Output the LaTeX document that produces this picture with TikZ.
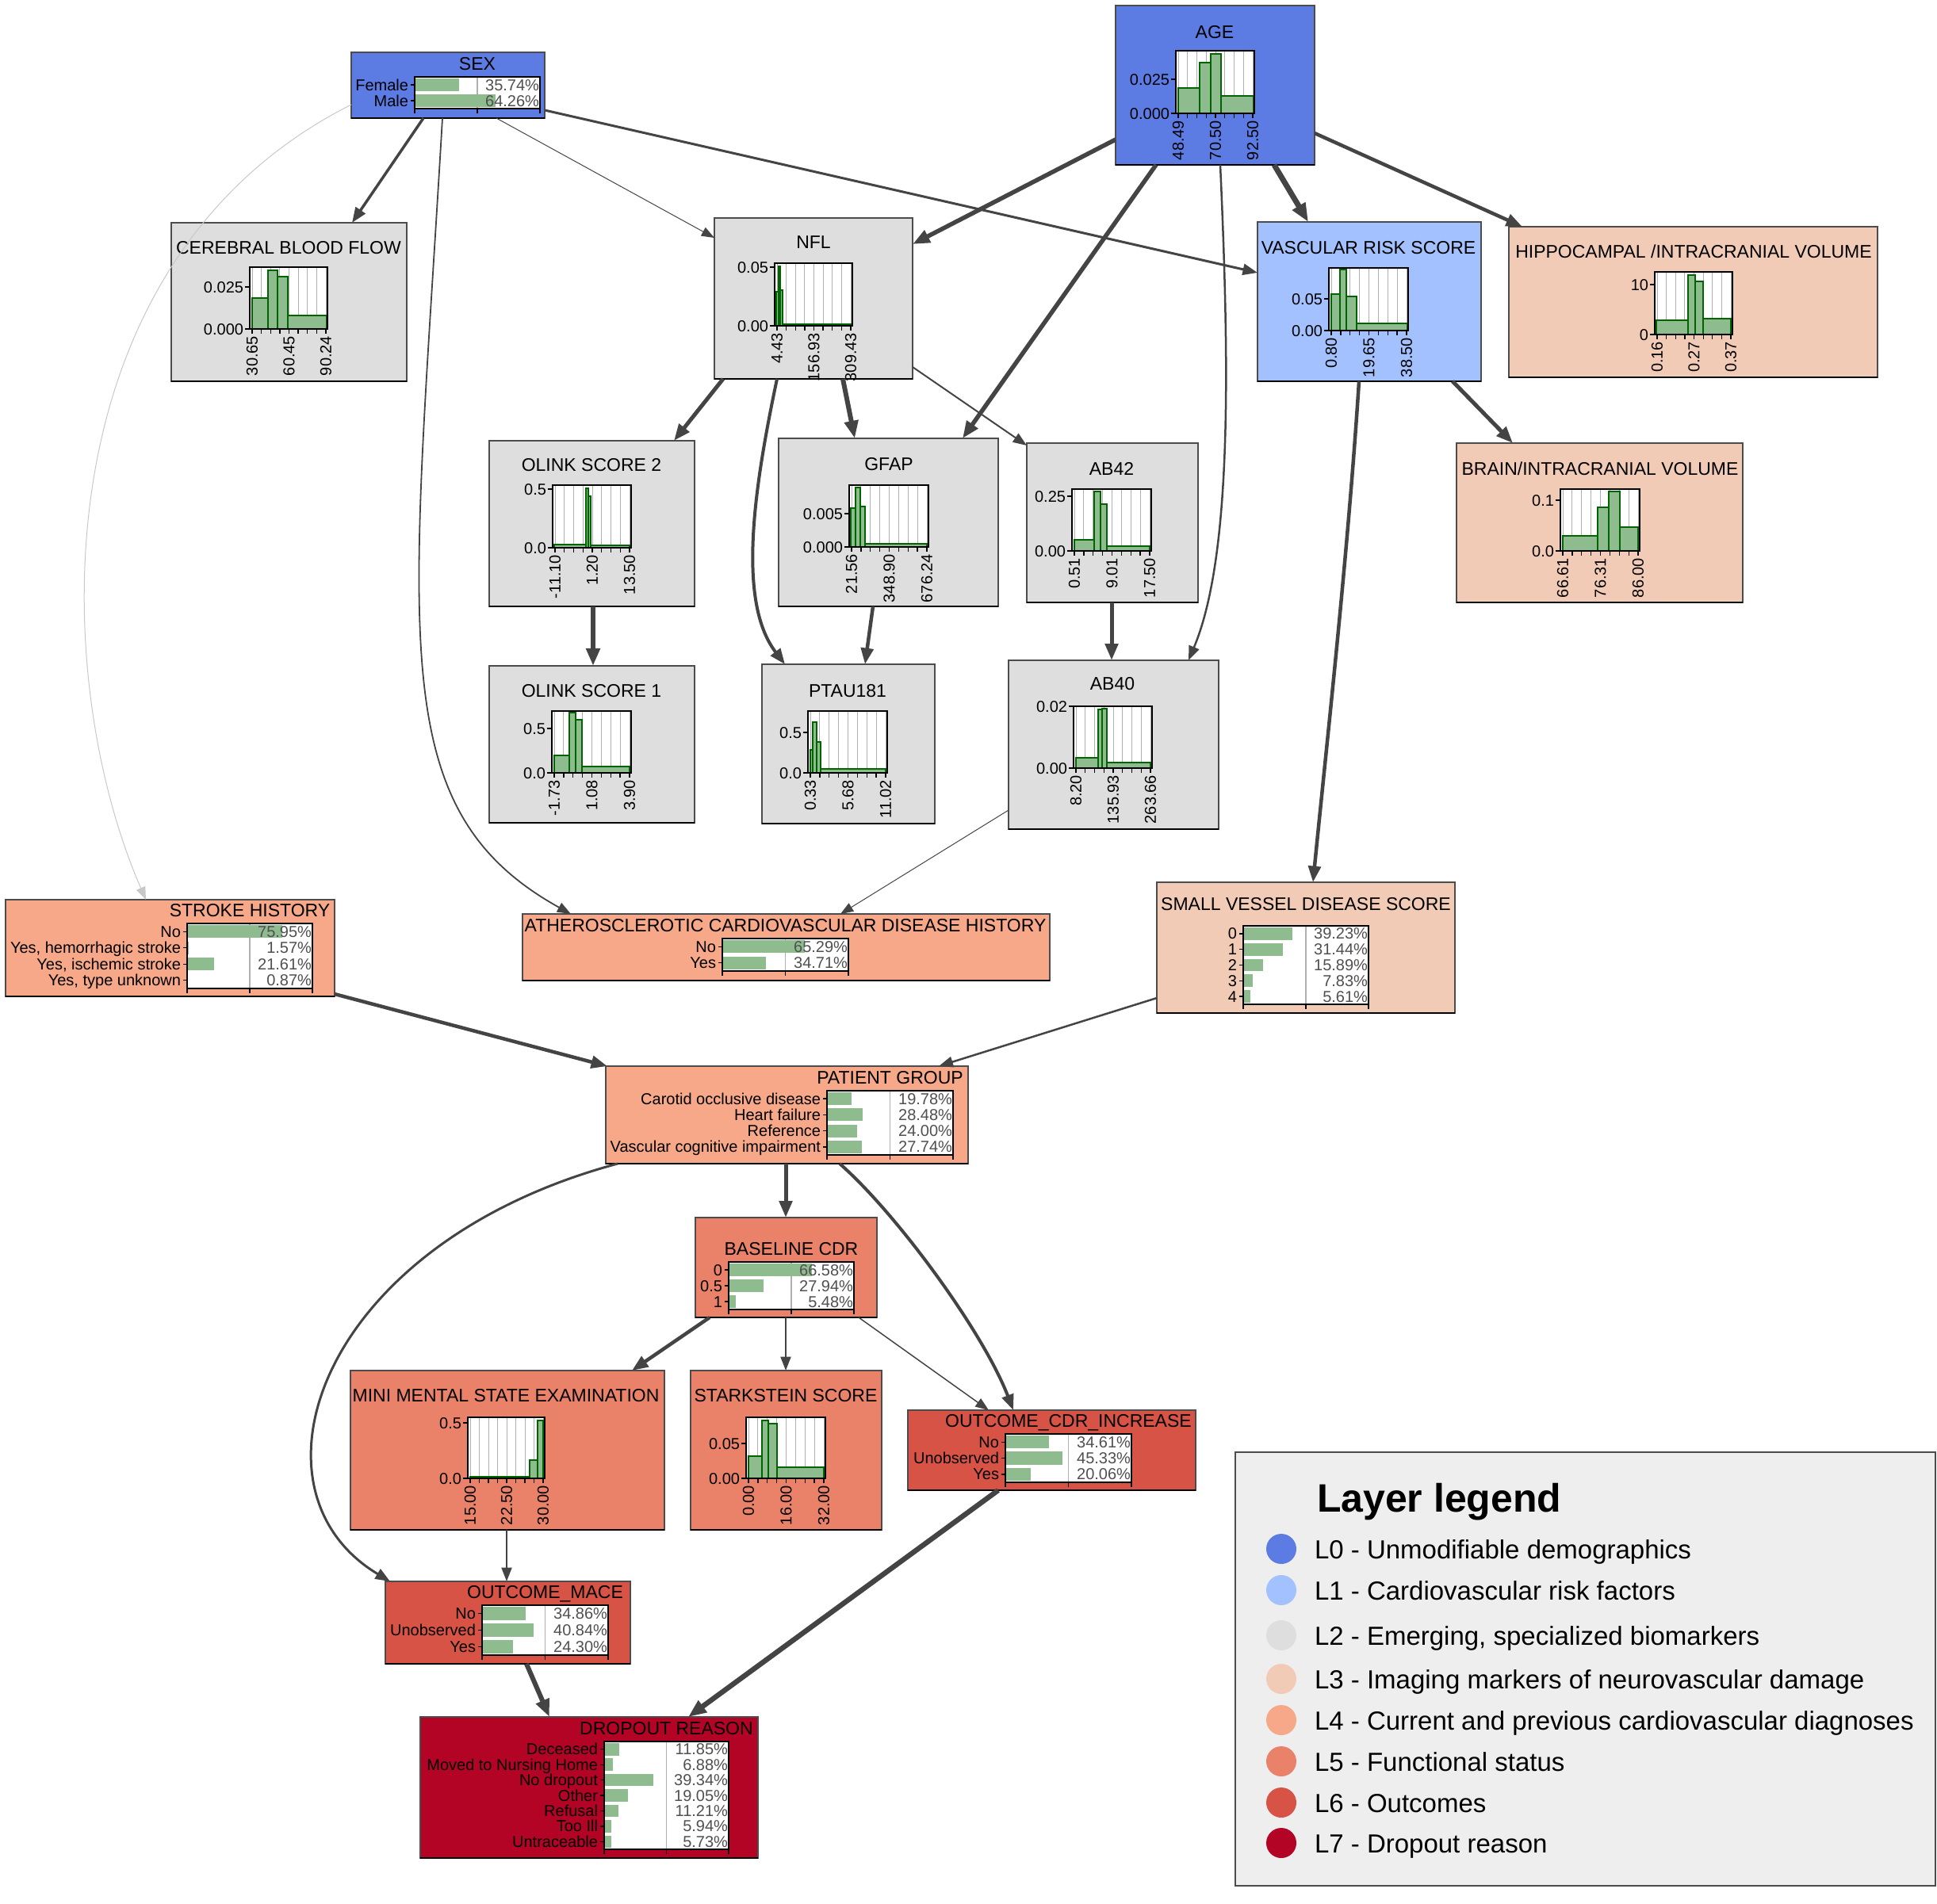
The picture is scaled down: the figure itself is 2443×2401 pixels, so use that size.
\documentclass[tikz,border=0pt]{standalone}
\usepackage{fontspec}
\setmainfont{Liberation Sans}
\usetikzlibrary{arrows.meta}

% layer colours
\definecolor{lzero}{RGB}{92,124,228}
\definecolor{lone}{RGB}{162,193,254}
\definecolor{ltwo}{RGB}{222,222,222}
\definecolor{lthree}{RGB}{242,203,183}
\definecolor{lfour}{RGB}{246,168,137}
\definecolor{lfive}{RGB}{234,130,105}
\definecolor{lsix}{RGB}{214,83,69}
\definecolor{lseven}{RGB}{180,4,38}
\definecolor{edgegray}{RGB}{68,68,68}
\definecolor{lightedge}{RGB}{200,200,200}
\definecolor{barfill}{RGB}{143,188,143}
\definecolor{barline}{RGB}{0,100,0}
\definecolor{valgray}{RGB}{80,80,80}
\definecolor{gridgray}{RGB}{176,176,176}
\definecolor{legbg}{RGB}{238,238,238}

\newcommand\titlesize{\fontsize{23}{27}\selectfont}
\newcommand\labsize{\fontsize{20}{24}\selectfont}
\newcommand\ticksize{\fontsize{20}{24}\selectfont}
\newcommand\legsize{\fontsize{33}{40}\selectfont}
\newcommand\legtitlesize{\fontsize{50}{60}\selectfont\bfseries}

\newcount\txtcount
\tikzset{
  txt/.style={inner sep=0pt, outer sep=0pt,
    /utils/exec={\global\advance\txtcount by 1}, name=txt\the\txtcount},
  titletxt/.style={txt, font=\titlesize},
  labtxt/.style={txt, font=\labsize},
  ticktxt/.style={txt, font=\ticksize},
  box/.style={draw=black!70, line width=1.2pt, inner sep=0pt, outer sep=0pt},
  boxshade/.style={draw=black, line width=2.5pt},
  gridline/.style={draw=gridgray, line width=1pt},
  hbar/.style={fill=barfill, draw=barline, line width=1.5pt},
  cbar/.style={fill=barfill},
  frame/.style={draw=black, line width=1.5pt},
  tickline/.style={draw=black, line width=1.3pt},
  midline/.style={draw=gridgray, line width=1.3pt},
  ed/.style={draw=edgegray, line width=#1pt,
    -{Triangle[length=15pt 1.2, width=11pt 1.0]}},
  edlight/.style={draw=lightedge, line width=1pt,
    -{Triangle[length=16pt, width=12pt]}},
}

% a box with a heavier lower edge: name, left, top, right, bottom, colour
\newcommand\boxnode[6]{%
  \pgfmathsetmacro\bw{#4-#2}\pgfmathsetmacro\bh{#5-#3}%
  \node[box, fill=#6, minimum width=\bw pt, minimum height=\bh pt] (#1) at ({(#2+#4)/2},{(#3+#5)/2}) {};
  \draw[boxshade] (#1.south west) -- (#1.south east);
}

% centred title: x, baseline y, text
\newcommand\ttl[3]{\node[titletxt, anchor=base] at (#1,#2) {#3};}

% histogram plot area: left, top, right, bottom
\newcommand\hframe[4]{%
  \xdef\hL{#1}\xdef\hT{#2}\xdef\hR{#3}\xdef\hB{#4}%
  \fill[white] (#1,#2) rectangle (#3,#4);
  \foreach \i in {0,...,8}{\draw[gridline] ({#1+3+(#3-#1-5)*\i/8},#2) -- ({#1+3+(#3-#1-5)*\i/8},#4);}
}
% one histogram bin: from x, to x, top y
\newcommand\hbin[3]{\filldraw[hbar] (#1,\hB) rectangle (#2,#3);}
% axes: upper y tick position, its label, zero label, three x labels
\newcommand\hfinish[6]{%
  \draw[frame] (\hL,\hT) rectangle (\hR,\hB);
  \foreach \i in {0,...,8}{\draw[tickline] ({\hL+3+(\hR-\hL-5)*\i/8},\hB) -- ({\hL+3+(\hR-\hL-5)*\i/8},{\hB+6});}
  \draw[tickline] ({\hL-6},#1) -- (\hL,#1);
  \draw[tickline] ({\hL-6},\hB) -- (\hL,\hB);
  \node[ticktxt, anchor=base east] at ({\hL-8},{#1+7}) {#2};
  \node[ticktxt, anchor=base east] at ({\hL-8},{\hB+7}) {#3};
  \node[ticktxt, rotate=90, anchor=east] at ({\hL+3},{\hB+9}) {#4};
  \node[ticktxt, rotate=90, anchor=east] at ({(\hL+\hR)/2+0.5},{\hB+9}) {#5};
  \node[ticktxt, rotate=90, anchor=east] at ({\hR-2},{\hB+9}) {#6};
}

% category chart area: left, top, right, bottom, number of rows
\newcommand\cframe[5]{%
  \xdef\cL{#1}\xdef\cT{#2}\xdef\cR{#3}\xdef\cB{#4}%
  \pgfmathsetmacro\tmpH{(#4-#2)/#5}\xdef\cH{\tmpH}%
  \fill[white] (#1,#2) rectangle (#3,#4);
  \draw[midline] ({(#1+#3)/2},#2) -- ({(#1+#3)/2},#4);
}
% one category row: index, label, percentage
\newcommand\crow[3]{%
  \pgfmathsetmacro\rc{\cT+(#1-0.5)*\cH}%
  \pgfmathsetmacro\rx{\cL+(\cR-\cL)*#3/100}%
  \fill[cbar] (\cL,{\rc-0.4*\cH}) rectangle (\rx,{\rc+0.4*\cH});
  \draw[tickline] ({\cL-5},\rc) -- (\cL,\rc);
  \node[labtxt, anchor=base east] at ({\cL-8},{\rc+7}) {#2};
  \node[labtxt, text=valgray, anchor=base east] at ({\cR-1},{\rc+7}) {#3\%};
}
\newcommand\cfinish{%
  \draw[frame] (\cL,\cT) rectangle (\cR,\cB);
  \draw[tickline] (\cL,\cB) -- (\cL,{\cB+6});
  \draw[tickline] ({(\cL+\cR)/2},\cB) -- ({(\cL+\cR)/2},{\cB+6});
  \draw[tickline] (\cR,\cB) -- (\cR,{\cB+6});
}

\begin{document}
\begin{tikzpicture}[x=1pt,y=-1pt]
\useasboundingbox (0,0) rectangle (2443,2401);

% ---------- boxes ----------
\boxnode{sex}{443}{66}{687}{149}{lzero}
\boxnode{age}{1407}{7}{1658}{208}{lzero}
\boxnode{cbf}{216}{281}{513}{481}{ltwo}
\boxnode{nfl}{901}{275}{1151}{478}{ltwo}
\boxnode{vrs}{1586}{280}{1868}{481}{lone}
\boxnode{hip}{1903}{286}{2368}{476}{lthree}
\boxnode{ol2}{617}{556}{876}{765}{ltwo}
\boxnode{gfap}{982}{553}{1259}{765}{ltwo}
\boxnode{ab42}{1295}{559}{1511}{760}{ltwo}
\boxnode{brain}{1837}{559}{2198}{760}{lthree}
\boxnode{ol1}{617}{840}{876}{1038}{ltwo}
\boxnode{ptau}{961}{838}{1179}{1039}{ltwo}
\boxnode{ab40}{1272}{833}{1537}{1046}{ltwo}
\boxnode{stroke}{7}{1135}{422}{1257}{lfour}
\boxnode{ascvd}{659}{1153}{1324}{1237}{lfour}
\boxnode{svd}{1459}{1113}{1835}{1278}{lthree}
\boxnode{pg}{764}{1345}{1221}{1468}{lfour}
\boxnode{cdr}{877}{1536}{1106}{1662}{lfive}
\boxnode{mmse}{442}{1729}{838}{1930}{lfive}
\boxnode{stark}{871}{1729}{1112}{1930}{lfive}
\boxnode{ocdr}{1145}{1779}{1508}{1880}{lsix}
\boxnode{mace}{486}{1995}{795}{2099}{lsix}
\boxnode{drop}{530}{2166}{956}{2344}{lseven}

% ---------- histogram contents ----------
\ttl{1532}{48}{AGE}
\hframe{1483}{64}{1582}{143}
\hbin{1486}{1513}{111}\hbin{1513}{1527}{79}\hbin{1527}{1540}{68}\hbin{1540}{1581}{121}
\hfinish{100}{0.025}{0.000}{48.49}{70.50}{92.50}

\ttl{364}{320}{CEREBRAL BLOOD FLOW}
\hframe{315}{337}{413}{415}
\hbin{318}{338}{376}\hbin{338}{350}{341}\hbin{350}{363}{349}\hbin{363}{412}{398}
\hfinish{362}{0.025}{0.000}{30.65}{60.45}{90.24}

\ttl{1026}{313}{NFL}
\hframe{977}{332}{1075}{411}
\hbin{979}{982}{368}\hbin{982}{984}{336}\hbin{984}{987}{366}\hbin{987}{1073}{409}
\hfinish{337}{0.05}{0.00}{4.43}{156.93}{309.43}

\ttl{1726}{320}{VASCULAR RISK SCORE}
\hframe{1676}{338}{1776}{417}
\hbin{1679}{1690}{371}\hbin{1690}{1698}{340}\hbin{1698}{1711}{374}\hbin{1711}{1775}{408}
\hfinish{377}{0.05}{0.00}{0.80}{19.65}{38.50}

\ttl{2136}{325}{HIPPOCAMPAL /INTRACRANIAL VOLUME}
\hframe{2087}{343}{2185}{422}
\hbin{2089}{2129}{404}\hbin{2129}{2138}{347}\hbin{2138}{2148}{355}\hbin{2148}{2183}{402}
\hfinish{359}{10}{0}{0.16}{0.27}{0.37}

\ttl{746}{594}{OLINK SCORE 2}
\hframe{697}{612}{796}{691}
\hbin{699}{739}{687}\hbin{739}{742}{616}\hbin{742}{745}{626}\hbin{745}{794}{688}
\hfinish{617}{0.5}{0.0}{-11.10}{1.20}{13.50}

\ttl{1121}{593}{GFAP}
\hframe{1071}{612}{1171}{690}
\hbin{1073}{1079}{641}\hbin{1079}{1085}{615}\hbin{1085}{1091}{639}\hbin{1091}{1169}{686}
\hfinish{648}{0.005}{0.000}{21.56}{348.90}{676.24}

\ttl{1402}{599}{AB42}
\hframe{1352}{617}{1452}{695}
\hbin{1355}{1380}{681}\hbin{1380}{1388}{620}\hbin{1388}{1396}{636}\hbin{1396}{1450}{689}
\hfinish{626}{0.25}{0.00}{0.51}{9.01}{17.50}

\ttl{2018}{599}{BRAIN/INTRACRANIAL VOLUME}
\hframe{1968}{617}{2068}{695}
\hbin{1971}{2015}{676}\hbin{2015}{2029}{640}\hbin{2029}{2043}{620}\hbin{2043}{2066}{665}
\hfinish{631}{0.1}{0.0}{66.61}{76.31}{86.00}

\ttl{746}{879}{OLINK SCORE 1}
\hframe{696}{897}{796}{975}
\hbin{699}{718}{953}\hbin{718}{726}{899}\hbin{726}{734}{908}\hbin{734}{794}{967}
\hfinish{919}{0.5}{0.0}{-1.73}{1.08}{3.90}

\ttl{1069}{879}{PTAU181}
\hframe{1019}{897}{1119}{975}
\hbin{1022}{1025}{946}\hbin{1025}{1030}{911}\hbin{1030}{1035}{936}\hbin{1035}{1117}{970}
\hfinish{924}{0.5}{0.0}{0.33}{5.68}{11.02}

\ttl{1403}{870}{AB40}
\hframe{1354}{891}{1453}{969}
\hbin{1357}{1385}{956}\hbin{1385}{1390}{895}\hbin{1390}{1396}{894}\hbin{1396}{1451}{962}
\hfinish{891}{0.02}{0.00}{8.20}{135.93}{263.66}

\ttl{638}{1768}{MINI MENTAL STATE EXAMINATION}
\hframe{590}{1788}{687}{1865}
\hbin{593}{668}{1863}\hbin{668}{678}{1842}\hbin{678}{685}{1792}
\hfinish{1795}{0.5}{0.0}{15.00}{22.50}{30.00}

\ttl{991}{1768}{STARKSTEIN SCORE}
\hframe{941}{1788}{1041}{1865}
\hbin{944}{961}{1837}\hbin{961}{969}{1792}\hbin{969}{980}{1796}\hbin{980}{1039}{1851}
\hfinish{1821}{0.05}{0.00}{0.00}{16.00}{32.00}

% ---------- category contents ----------
\ttl{602}{88}{SEX}
\cframe{523}{97}{681}{137}{2}
\crow{1}{Female}{35.74}\crow{2}{Male}{64.26}
\cfinish

\ttl{315}{1156}{STROKE HISTORY}
\cframe{236}{1165}{394}{1247}{4}
\crow{1}{No}{75.95}\crow{2}{Yes, hemorrhagic stroke}{1.57}
\crow{3}{Yes, ischemic stroke}{21.61}\crow{4}{Yes, type unknown}{0.87}
\cfinish

\ttl{990.5}{1175}{ATHEROSCLEROTIC CARDIOVASCULAR DISEASE HISTORY}
\cframe{911}{1184}{1070}{1225}{2}
\crow{1}{No}{65.29}\crow{2}{Yes}{34.71}
\cfinish

\ttl{1647}{1148}{SMALL VESSEL DISEASE SCORE}
\cframe{1568}{1168}{1726}{1267}{5}
\crow{1}{0}{39.23}\crow{2}{1}{31.44}\crow{3}{2}{15.89}\crow{4}{3}{7.83}\crow{5}{4}{5.61}
\cfinish

\ttl{1122.5}{1367}{PATIENT GROUP}
\cframe{1043}{1376}{1202}{1457}{4}
\crow{1}{Carotid occlusive disease}{19.78}\crow{2}{Heart failure}{28.48}
\crow{3}{Reference}{24.00}\crow{4}{Vascular cognitive impairment}{27.74}
\cfinish

\ttl{998}{1583}{BASELINE CDR}
\cframe{919}{1592}{1077}{1652}{3}
\crow{1}{0}{66.58}\crow{2}{0.5}{27.94}\crow{3}{1}{5.48}
\cfinish

\ttl{1347.5}{1800}{OUTCOME\_CDR\_INCREASE}
\cframe{1268}{1809}{1427}{1870}{3}
\crow{1}{No}{34.61}\crow{2}{Unobserved}{45.33}\crow{3}{Yes}{20.06}
\cfinish

\ttl{687.5}{2016}{OUTCOME\_MACE}
\cframe{608}{2025}{767}{2088}{3}
\crow{1}{No}{34.86}\crow{2}{Unobserved}{40.84}\crow{3}{Yes}{24.30}
\cfinish

\ttl{840.5}{2188}{DROPOUT REASON}
\cframe{762}{2197}{919}{2333}{7}
\crow{1}{Deceased}{11.85}\crow{2}{Moved to Nursing Home}{6.88}\crow{3}{No dropout}{39.34}
\crow{4}{Other}{19.05}\crow{5}{Refusal}{11.21}\crow{6}{Too Ill}{5.94}\crow{7}{Untraceable}{5.73}
\cfinish

% ---------- connectors ----------
\draw[edlight] ([yshift=-66]sex.north west) .. controls (50,330) and (60,850) .. ([xshift=177]stroke.north west);
\draw[ed=3.5] ([xshift=91]sex.south west) -- ([xshift=228]cbf.north west);
\draw[ed=1] ([xshift=183]sex.south west) -- ([yshift=-25]nfl.north west);
\draw[ed=3] ([yshift=10]sex.south east) -- ([yshift=-64]vrs.north west);
\draw[ed=1.8] ([xshift=115]sex.south west) .. controls (520,800) and (480,1020) .. ([xshift=61]ascvd.north west);
\draw[ed=5.5] ([yshift=32]age.south west) -- ([yshift=-33]nfl.north east);
\draw[ed=5.5] ([xshift=51]age.south west) -- ([xshift=-45]gfap.north east);
\draw[ed=2.5] ([xshift=132]age.south west) .. controls (1550,450) and (1555,700) .. ([xshift=-38]ab40.north east);
\draw[ed=7] ([xshift=200]age.south west) -- ([xshift=64]vrs.north west);
\draw[ed=4.5] ([yshift=40]age.south east) -- ([xshift=17]hip.north west);
\draw[ed=5] ([xshift=11]nfl.south west) -- ([xshift=-26]ol2.north east);
\draw[ed=4] ([xshift=79]nfl.south west) .. controls (950,620) and (930,760) .. ([xshift=29]ptau.north west);
\draw[ed=6] ([xshift=162]nfl.south west) -- ([xshift=96]gfap.north west);
\draw[ed=2] ([yshift=15]nfl.south east) -- ([yshift=-3]ab42.north west);
\draw[ed=6] ([xshift=131]ol2.south west) -- ([xshift=131]ol1.north west);
\draw[ed=4.5] ([xshift=119]gfap.south west) -- ([xshift=130]ptau.north west);
\draw[ed=5] ([xshift=107]ab42.south west) -- ([xshift=130]ab40.north west);
\draw[ed=1] ([yshift=24]ab40.south west) -- ([xshift=401]ascvd.north west);
\draw[ed=5] ([xshift=-36]vrs.south east) -- ([xshift=71]brain.north west);
\draw[ed=4.5] ([xshift=128]vrs.south west) .. controls (1700,700) and (1672,950) .. ([xshift=197]svd.north west);
\draw[ed=4.5] ([yshift=3]stroke.south east) -- ([xshift=2]pg.north west);
\draw[ed=2.5] ([yshift=19]svd.south west) -- ([xshift=-37]pg.north east);
\draw[ed=5] ([xshift=227]pg.south west) -- ([xshift=114]cdr.north west);
\draw[ed=3] ([xshift=15]pg.south west) .. controls (400,1570) and (300,1880) .. ([xshift=6]mace.north west);
\draw[ed=4] ([xshift=295]pg.south west) .. controls (1130,1530) and (1240,1680) .. ([xshift=133]ocdr.north west);
\draw[ed=4.5] ([xshift=18]cdr.south west) -- ([xshift=-41]mmse.north east);
\draw[ed=2] ([xshift=114]cdr.south west) -- ([xshift=120]stark.north west);
\draw[ed=1.5] ([xshift=-23]cdr.south east) -- ([xshift=102]ocdr.north west);
\draw[ed=2] ([xshift=197]mmse.south west) -- ([xshift=153]mace.north west);
\draw[ed=6] ([xshift=178]mace.south west) -- ([xshift=163]drop.north west);
\draw[ed=6.5] ([xshift=114]ocdr.south west) -- ([xshift=-88]drop.north east);

% ---------- legend ----------
\node[draw=black!70, line width=1.5pt, fill=legbg, minimum width=883pt, minimum height=547pt, inner sep=0pt] (legend) at (1999.5,2105.5) {};
\node[txt, font=\legtitlesize, anchor=base west] at (1661,1907) {Layer legend};
\foreach \c/\yy/\t in {lzero/1954/{L0 - Unmodifiable demographics},
                       lone/2006/{L1 - Cardiovascular risk factors},
                       ltwo/2063/{L2 - Emerging, specialized biomarkers},
                       lthree/2118/{L3 - Imaging markers of neurovascular damage},
                       lfour/2170/{L4 - Current and previous cardiovascular diagnoses},
                       lfive/2222/{L5 - Functional status},
                       lsix/2274/{L6 - Outcomes},
                       lseven/2325/{L7 - Dropout reason}}{
  \fill[\c] (1616,\yy) circle (19);
  \node[txt, font=\legsize, anchor=base west] at (1658,{\yy+12}) {\t};
}
\end{tikzpicture}
\end{document}
